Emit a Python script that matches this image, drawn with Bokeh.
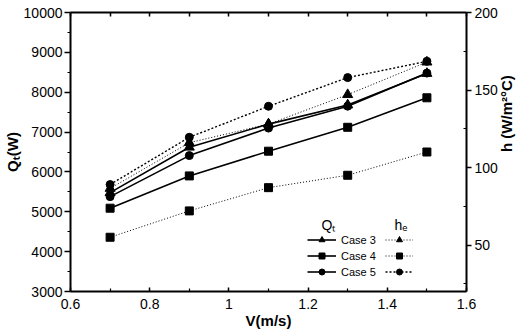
from math import pi

from bokeh.core.properties import value
from bokeh.embed import file_html
from bokeh.models import (CustomJSTickFormatter, FixedTicker, Label, Legend,
                          LegendItem, LinearAxis, Range1d)
from bokeh.plotting import figure
from bokeh.resources import INLINE

# Air velocity (m/s)
velocity = [0.7, 0.9, 1.1, 1.3, 1.5]

# Total heat transfer rate Q_t (W), left axis
q_case3 = [5480, 6620, 7200, 7680, 8470]
q_case4 = [5090, 5900, 6520, 7120, 7860]
q_case5 = [5380, 6410, 7100, 7650, 8480]

# Heat transfer coefficient h_e (W/m2 C), right axis
h_case3 = [86.5, 116, 128, 147, 168]
h_case4 = [55, 72, 87, 95, 110]
h_case5 = [89, 119.5, 139.5, 158, 168.5]

case_labels = ["Case 3", "Case 4", "Case 5"]

x_ticks = [0.6, 0.8, 1.0, 1.2, 1.4, 1.6]
x_minor = [0.7, 0.9, 1.1, 1.3, 1.5]
q_ticks = [3000, 4000, 5000, 6000, 7000, 8000, 9000, 10000]
q_minor = [3500, 4500, 5500, 6500, 7500, 8500, 9500]
h_ticks = [50, 100, 150, 200]
h_minor = [25, 75, 125, 175]

FONT = "Liberation Sans"

p = figure(width=526, height=334,
           x_range=Range1d(0.6, 1.6), y_range=Range1d(3000, 10000),
           output_backend="svg", toolbar_location=None,
           min_border_left=67, min_border_right=57,
           min_border_top=12, min_border_bottom=43)
p.extra_y_ranges = {"h": Range1d(20, 200)}
p.grid.visible = False
p.outline_line_color = None
p.background_fill_color = "white"
p.border_fill_color = "white"


def style_axis(ax):
    ax.axis_line_width = 2
    ax.axis_line_color = "black"
    ax.major_tick_line_width = 1.5
    ax.minor_tick_line_width = 1.2
    ax.major_label_text_font = FONT
    ax.major_label_text_font_size = "14px"
    ax.major_label_text_color = "black"
    ax.axis_label_text_font = FONT
    ax.axis_label_text_font_size = "15px"
    ax.axis_label_text_font_style = "bold"
    ax.axis_label_text_color = "black"


# bottom axis: ticks point into the frame
xa = p.xaxis[0]
xa.ticker = FixedTicker(ticks=x_ticks, minor_ticks=x_minor)
style_axis(xa)
xa.major_tick_in, xa.major_tick_out = 4, 0
xa.minor_tick_in, xa.minor_tick_out = 3, 0
xa.major_label_standoff = 7
xa.axis_label = "V(m/s)"
xa.axis_label_standoff = 0

# left axis: Q_t
ya = p.yaxis[0]
ya.ticker = FixedTicker(ticks=q_ticks, minor_ticks=q_minor)
style_axis(ya)
ya.major_tick_in, ya.major_tick_out = 0, 6
ya.minor_tick_in, ya.minor_tick_out = 0, 3
ya.major_label_standoff = 2
ya.axis_label = "Qₜ(W)"
ya.axis_label_standoff = 0

# right axis: h_e
ra = LinearAxis(y_range_name="h", ticker=FixedTicker(ticks=h_ticks, minor_ticks=h_minor))
style_axis(ra)
ra.major_tick_in, ra.major_tick_out = 0, 5
ra.minor_tick_in, ra.minor_tick_out = 3, 0
ra.major_label_standoff = 3
ra.axis_label = "h (W/m²°C)"
ra.axis_label_standoff = 6
if "axis_label_orientation" in LinearAxis.properties():
    ra.axis_label_orientation = pi / 2
p.add_layout(ra, "right")

# top axis: frame edge with tick marks only
ta = LinearAxis(ticker=FixedTicker(ticks=[0.6, 0.7, 0.8, 0.9, 1.0, 1.1, 1.2, 1.3, 1.4, 1.5, 1.6]),
                formatter=CustomJSTickFormatter(code="return ''"))
style_axis(ta)
ta.major_tick_in, ta.major_tick_out = 4, 0
ta.minor_tick_line_color = None
p.add_layout(ta, "above")

# series
q_series = [q_case3, q_case4, q_case5]
h_series = [h_case3, h_case4, h_case5]
markers = ["triangle", "square", "circle"]
sizes = [10, 8, 8]
h_dash = ["1 2", "1 2", "2 2"]
h_width = [1.0, 1.0, 1.4]

q_items, h_items = [], []
for i in range(3):
    lq = p.line(velocity, q_series[i], line_color="black", line_width=1.6)
    mq = p.scatter(velocity, q_series[i], marker=markers[i], size=sizes[i],
                   fill_color="black", line_color="black")
    lh = p.line(velocity, h_series[i], y_range_name="h", line_color="black",
                line_width=h_width[i], line_dash=h_dash[i])
    mh = p.scatter(velocity, h_series[i], y_range_name="h", marker=markers[i],
                   size=sizes[i], fill_color="black", line_color="black")
    q_items.append(LegendItem(label=value(case_labels[i]), renderers=[lq, mq]))
    h_items.append(LegendItem(label=value(" "), renderers=[lh, mh]))


def make_legend(items, loc, width):
    return Legend(items=items, location=loc, glyph_width=width,
                  glyph_height=15, label_height=15, spacing=1,
                  padding=0, margin=0, border_line_color=None,
                  background_fill_alpha=0, label_standoff=5,
                  label_text_font=FONT, label_text_font_size="11px",
                  label_text_color="black")


p.add_layout(make_legend(q_items, (237, 12), 29))
p.add_layout(make_legend(h_items, (315, 12), 28))


def add_text(x, y, text, size):
    p.add_layout(Label(x=x, y=y, x_units="screen", y_units="screen", text=text,
                       text_align="left", text_baseline="middle",
                       text_font=FONT, text_font_size=size, text_color="black"))


# legend column headers
add_text(251, 67, "Qₜ", "14px")
add_text(324, 67, "hₑ", "14px")

open("out.html", "w").write(file_html(p, INLINE))
